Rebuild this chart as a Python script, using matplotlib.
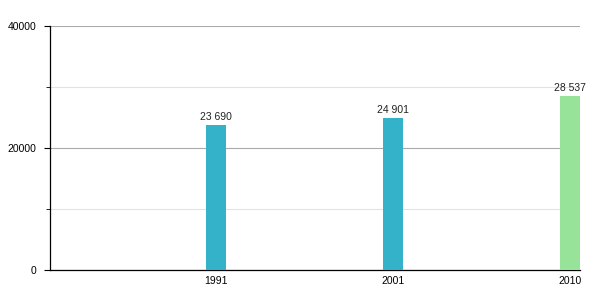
import matplotlib
matplotlib.use("Agg")
import matplotlib.pyplot as plt
from matplotlib.ticker import MultipleLocator

plt.rcParams['font.family'] = ['Liberation Sans', 'DejaVu Sans']

# data
years = ["1991", "2001", "2010"]
population = [23690, 24901, 28537]
bar_colors = ["#33b2c9", "#33b2c9", "#98e39a"]

fig = plt.figure(figsize=(6, 3), dpi=100)
ax = fig.add_axes([50 / 600, 0.1, 530 / 600, 244 / 300])

pos = list(range(1, len(years) + 1))
ax.bar(pos, population, width=0.113, color=bar_colors, zorder=3)

for x, v in zip(pos, population):
    ax.text(x, v + 500, f"{v:,}".replace(",", " "), ha="center", va="bottom",
            fontsize=7.5, color="#222222")

ax.set_xlim(0.06, 3.057)
ax.set_ylim(0, 40000)
ax.yaxis.set_major_locator(MultipleLocator(20000))
ax.yaxis.set_minor_locator(MultipleLocator(10000))
ax.grid(axis="y", which="major", color="#aaaaaa", linewidth=0.8, zorder=0)
ax.grid(axis="y", which="minor", color="#e2e2e2", linewidth=0.8, zorder=0)

ax.set_xticks(pos)
ax.set_xticklabels(years)
ax.tick_params(axis="x", length=0, labelsize=7.5, pad=4)
ax.tick_params(axis="y", which="major", length=4, labelsize=7.5, pad=6)
ax.tick_params(axis="y", which="minor", length=3)

for s in ["top", "right"]:
    ax.spines[s].set_visible(False)
ax.spines["left"].set_linewidth(0.9)
ax.spines["bottom"].set_linewidth(0.9)

fig.savefig("out.png", dpi=100)
